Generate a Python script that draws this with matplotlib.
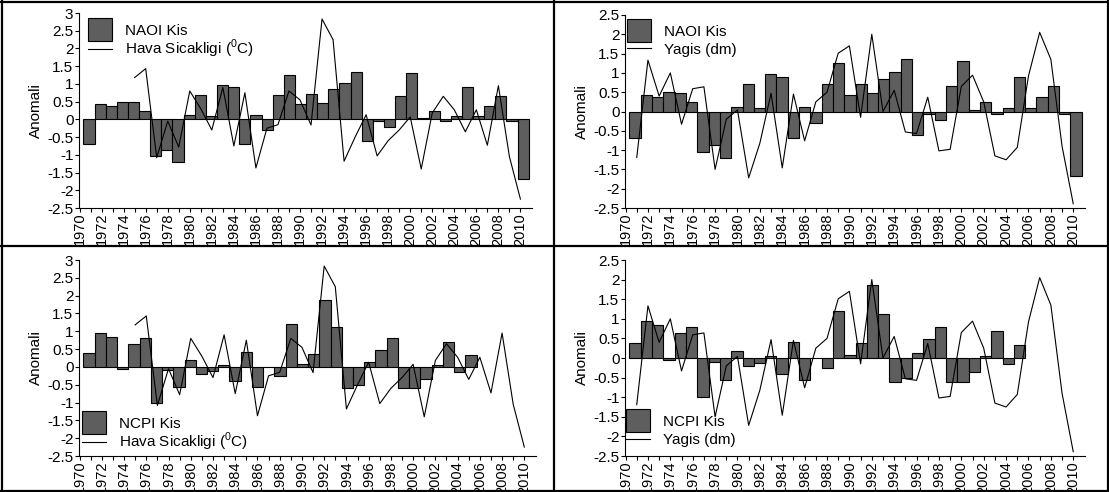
import numpy as np
import matplotlib.pyplot as plt
from matplotlib.lines import Line2D
from matplotlib.patches import Rectangle
from matplotlib.legend_handler import HandlerPatch

plt.rcParams['font.family'] = ['Liberation Sans', 'DejaVu Sans']
plt.rcParams['mathtext.fontset'] = 'custom'
plt.rcParams['mathtext.rm'] = 'Liberation Sans'

# winter index anomalies (bars)
naoi = [-0.69, 0.43, 0.38, 0.5, 0.49, 0.24, -1.04, -0.86, -1.21, 0.11,
        0.7, 0.09, 0.96, 0.9, -0.69, 0.12, -0.29, 0.7, 1.25, 0.43,
        0.72, 0.47, 0.85, 1.03, 1.35, -0.62, -0.06, -0.22, 0.65, 1.3,
        0.04, 0.24, -0.06, 0.09, 0.9, 0.1, 0.38, 0.65, -0.06, -1.67]
ncpi = [0.38, 0.95, 0.85, -0.05, 0.63, 0.8, -1.0, -0.1, -0.55, 0.19,
        -0.2, -0.12, 0.04, -0.4, 0.42, -0.55, 0.0, -0.26, 1.2, 0.08,
        0.37, 1.87, 1.13, -0.6, -0.52, 0.13, 0.48, 0.8, -0.6, -0.6,
        -0.35, 0.04, 0.7, -0.15, 0.33]

# temperature anomalies 1975-2010
temp_years = list(range(1975, 2011))
temp = [1.18, 1.43, -1.08, -0.05, -0.78, 0.8, 0.3, -0.3, 0.9, -0.75,
        0.75, -1.37, -0.25, -0.15, 0.8, 0.55, -0.16, 2.83, 2.25, -1.18,
        -0.5, 0.13, -1.03, -0.6, -0.3, 0.07, -1.4, 0.18, 0.65, 0.27,
        -0.35, 0.27, -0.73, 0.95, -1.05, -2.25]

# precipitation anomalies 1971-2010
rain_years = list(range(1971, 2011))
rain = [-1.19, 1.33, 0.4, 1.0, -0.33, 0.59, 0.64, -1.5, -0.2, 0.04,
        -1.72, -0.82, 0.47, -1.46, 0.45, -0.76, 0.25, 0.5, 1.51, 1.7,
        -0.15, 2.0, 0.0, 0.55, -0.53, -0.57, 0.37, -1.02, -0.98, 0.65,
        0.94, 0.25, -1.15, -1.25, -0.93, 0.92, 2.05, 1.35, -0.9, -2.39]

label_years = list(range(1970, 2011, 2))
temp_label = 'Hava Sicakligi ($^{\\rm 0}$C)'
rain_label = 'Yagis (dm)'

W, H = 1109, 492
fig = plt.figure(figsize=(W / 100, H / 100), dpi=100)


def big_square(legend, orig_handle, xdescent, ydescent, width, height, fontsize):
    extra = (1.5 * fontsize - height) / 2
    return Rectangle((-xdescent, -ydescent - extra), width, height + 2 * extra)


def panel(box, bars, bar_label, yrs, vals, line_label, ymax, legend_loc, off, spacing):
    l, r, t, b = box
    aw, ah = r - l, b - t
    ax = fig.add_axes([l / W, 1 - b / H, aw / W, ah / H])
    x0 = 1970.35 + np.arange(len(bars)) * 1.01
    hb = ax.bar(x0, bars, width=1.01, align='edge', color='#5e5e5e',
                edgecolor='black', linewidth=0.8)
    hl, = ax.plot(yrs, vals, color='black', linewidth=0.8)
    ax.set_xlim(1969.95, 2011.05)
    ax.set_ylim(-2.5, ymax)
    yt = np.arange(-2.5, ymax + 0.01, 0.5)
    ax.set_yticks(yt)
    ax.set_yticklabels(['%g' % v for v in yt])
    ax.set_xticks(label_years)
    ax.set_xticklabels([str(y) for y in label_years], rotation=90)
    ax.set_xticks(range(1971, 2011, 2), minor=True)
    ax.tick_params(axis='both', which='both', length=3, width=0.8, pad=1)
    ax.tick_params(axis='y', labelsize=11)
    ax.tick_params(axis='x', labelsize=10.5, pad=0.5)
    ax.spines['top'].set_visible(False)
    ax.spines['right'].set_visible(False)
    ax.set_ylabel('Anomali', fontsize=11, labelpad=3)
    dx, dy = off
    if legend_loc == 'upper left':
        anchor = (dx / aw, 1 - dy / ah)
    else:
        anchor = (dx / aw, dy / ah)
    ax.legend([hb[0], hl], [bar_label, line_label], loc=legend_loc,
              bbox_to_anchor=anchor, bbox_transform=ax.transAxes,
              handler_map={Rectangle: HandlerPatch(patch_func=big_square)},
              frameon=False, fontsize=11, handlelength=1.6, labelspacing=spacing,
              handletextpad=0.8, borderaxespad=0, borderpad=0)
    return ax


panel((79, 532, 13, 208), naoi, 'NAOI Kis', temp_years, temp, temp_label, 3,
      'upper left', (9, 11), 0.0)
panel((625, 1085, 15, 208), naoi, 'NAOI Kis', rain_years, rain, rain_label, 2.5,
      'upper left', (2, 10), 0.25)
panel((79, 536, 260, 456), ncpi, 'NCPI Kis', temp_years, temp, temp_label, 3,
      'lower left', (3, 3), 0.0)
panel((625, 1085, 260, 456), ncpi, 'NCPI Kis', rain_years, rain, rain_label, 2.5,
      'lower left', (1, 9), 0.25)

# table borders
for xs, ys in [([1.5 / W, 1.5 / W], [0, 1]), ([1 - 1.5 / W, 1 - 1.5 / W], [0, 1]),
               ([0, 1], [1 - 1.5 / H, 1 - 1.5 / H]), ([0, 1], [1.5 / H, 1.5 / H]),
               ([554 / W, 554 / W], [0, 1]), ([0, 1], [1 - 246 / H, 1 - 246 / H])]:
    fig.add_artist(Line2D(xs, ys, color='black', linewidth=1.6))

fig.savefig('out.png', dpi=100)
